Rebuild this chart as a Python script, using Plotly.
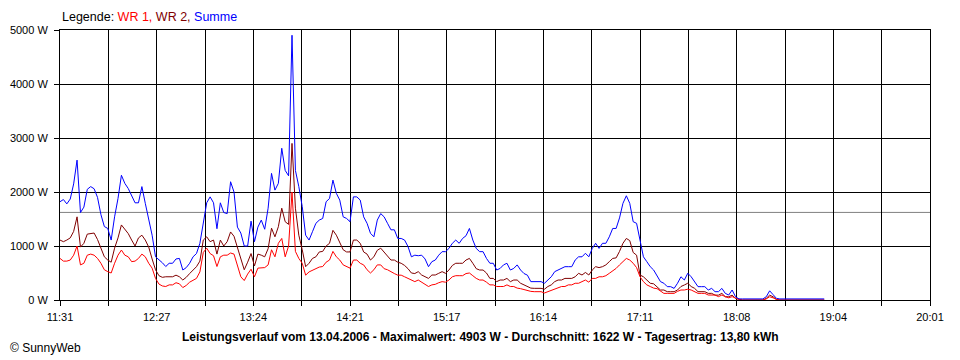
import plotly.graph_objects as go

# ---- data ----
start_label = "11:31"
step_min = 2  # sampling step of the series in minutes, starting at 11:31

summe = [
    1820, 1860, 1780, 1870, 2150, 2590, 1620, 1720, 2050, 2100, 2060, 1900, 1580, 1360, 1325, 1110,
    1540, 1880, 2310, 2160, 2065, 1930, 1800, 1800, 2100, 1790, 1520, 1200, 800, 750, 690, 620,
    680, 680, 760, 770, 555, 600, 680, 800, 860, 1050, 1420, 1800, 1910, 1800, 1320, 1800, 1620,
    1600, 2190, 2000, 1350,
    1240, 1000, 1000, 1460, 1080, 1350, 1480, 1310, 1700, 2345, 2035, 2160, 2810, 2400, 2300, 4903,
    2400, 2100, 1730, 1200, 1110, 1265, 1420, 1480, 1510, 1820, 1880, 2220, 1975, 1850, 1540, 1510,
    1450, 1910, 1910, 1850, 1540, 1420, 1235, 1170, 1480, 1600, 1540, 1420, 1300, 1300, 1140, 1140,
    1110, 990, 800, 830,
    820, 830, 760, 617, 710, 740, 830, 895, 895, 955, 1050, 1110, 1050, 1140, 1190, 1325, 1110, 955,
    895, 895, 770, 680, 680, 555, 585, 650, 680, 555, 585, 650, 555, 490, 460, 340, 340, 340, 340,
    310, 370, 430, 525, 555, 585, 617, 617, 617, 740, 800, 800, 865, 800,
    955, 1050, 955, 1050, 1050, 1170, 1325, 1325, 1520, 1790, 1930, 1790, 1450, 1420, 1080, 800,
    710, 617, 555, 460, 340, 310, 247, 247, 215, 310, 430, 370, 495, 430, 340, 247, 247, 247, 185,
    215, 154, 154, 215, 123, 92, 185, 60,
    20, 20, 20, 20, 20, 20, 20, 20, 60, 170, 100, 30, 20, 20, 20, 20, 20, 20, 20, 20, 20, 20, 20,
    20, 20, 20,
]

wr2 = [
    1110, 1080, 1110, 1150, 1270, 1540, 980, 1050, 1220, 1230, 1240, 1120, 960, 800, 740, 700,
    960, 1150, 1390, 1300, 1230, 1110, 1000, 1150, 1200, 1110, 980, 760, 560, 450, 420, 430,
    430, 430, 460, 430, 370, 420, 490, 555, 617, 720, 1110, 1170, 1080, 1110, 850, 1110, 1000,
    1080, 1260, 1180, 980,
    760, 560, 700, 860, 630, 850, 830, 800, 950, 1330, 1170, 1357, 1700, 1450, 1400, 2900,
    1700, 1200, 930, 617, 680, 770, 800, 890, 900, 1000, 1050, 1290, 1200, 1080, 930, 890,
    890, 1110, 1110, 1050, 890, 850, 740, 800, 920, 960, 890, 810, 740, 740, 700, 680,
    640, 580, 500, 490,
    525, 463, 430, 400, 463, 463, 494, 525, 494, 555, 640, 680, 680, 680, 740, 770, 680, 580,
    555, 555, 500, 400, 400, 340, 370, 370, 400, 340, 370, 370, 310, 280, 250, 220, 216, 216, 216,
    200, 250, 280, 340, 370, 370, 400, 400, 400, 430, 494, 463, 510, 463,
    555, 617, 600, 617, 650, 710, 770, 780, 900, 1050, 1140, 1100, 880, 830, 463, 430,
    370, 310, 300, 250, 185, 185, 154, 154, 154, 185, 250, 278, 310, 250, 216, 154, 154, 154, 123,
    123, 90, 90, 123, 60, 60, 90, 30,
    10, 0, 0, 0, 0, 0, 0, 0, 30, 90, 60, 10, 0, 0, 0, 0, 0, 0, 0, 0, 0, 0, 0,
    0, 0, 0,
]

wr1 = [
    770, 720, 720, 740, 830, 1000, 650, 680, 830, 850, 830, 770, 680, 560, 525, 500,
    680, 830, 925, 830, 800, 710, 720, 770, 850, 800, 680, 590, 400, 295, 260, 250,
    280, 280, 320, 300, 230, 270, 330, 370, 400, 520, 880, 960, 860, 820, 620, 800, 830,
    830, 870, 850, 650,
    430, 360, 480, 570, 430, 590, 600, 600, 650, 930, 800, 1050, 1140, 800, 1000, 2000,
    900, 770, 680, 460, 520, 555, 590, 610, 620, 700, 740, 900, 800, 740, 650, 620,
    590, 740, 740, 680, 650, 560, 500, 560, 650, 650, 580, 560, 520, 490, 460, 460,
    430, 400, 370, 340,
    370, 330, 300, 250, 280, 290, 320, 340, 330, 370, 430, 450, 450, 450, 490, 500, 450, 400,
    370, 370, 330, 280, 280, 250, 250, 250, 280, 250, 250, 220, 210, 190, 180, 160, 154, 154, 154,
    130, 154, 185, 216, 240, 250, 250, 280, 280, 310, 310, 340, 370, 330,
    400, 400, 430, 430, 450, 494, 540, 585, 650, 710, 770, 740, 680, 600, 430, 340,
    280, 250, 220, 210, 160, 123, 123, 123, 123, 160, 185, 185, 200, 185, 154, 123, 123, 123, 92,
    92, 92, 62, 92, 62, 40, 62, 30,
    10, 0, 0, 0, 0, 0, 0, 0, 20, 60, 40, 10, 0, 0, 0, 0, 0, 0, 0, 0, 0, 0, 0,
    0, 0, 0,
]

tick_labels = ["11:31", "12:27", "13:24", "14:21", "15:17", "16:14", "17:11", "18:08", "19:04", "20:01"]
span_min = 510          # 11:31 -> 20:01
average_w = 1622
legend_parts = [("WR 1", "#FF0000"), ("WR 2", "#800000"), ("Summe", "#0000FF")]
title_text = ("Leistungsverlauf vom 13.04.2006 - Maximalwert: 4903 W - "
              "Durchschnitt: 1622 W - Tagesertrag: 13,80 kWh")

# ---- figure ----
minutes = [i * step_min for i in range(len(summe))]
FONT = "Liberation Sans, Arial, sans-serif"

fig = go.Figure()
fig.add_trace(go.Scatter(x=minutes, y=wr2, mode="lines", line=dict(color="#800000", width=1), name="WR 2"))
fig.add_trace(go.Scatter(x=minutes, y=wr1, mode="lines", line=dict(color="#FF0000", width=1), name="WR 1"))
fig.add_trace(go.Scatter(x=minutes, y=summe, mode="lines", line=dict(color="#0000FF", width=1), name="Summe"))

n_div = 2 * (len(tick_labels) - 1)
xt_vals = [i * span_min / n_div for i in range(n_div + 1)]
xt_text = [tick_labels[i // 2] if i % 2 == 0 else "" for i in range(n_div + 1)]

fig.update_xaxes(
    range=[0, span_min], tickvals=xt_vals, ticktext=xt_text, automargin=False,
    showgrid=True, gridcolor="black", gridwidth=1,
    showline=True, linecolor="black", linewidth=1, mirror=True,
    ticks="outside", ticklen=5, tickcolor="black", zeroline=False,
    ticklabelstandoff=2,
    tickfont=dict(family=FONT, size=11, color="black"),
)
fig.update_yaxes(
    range=[0, 5000], tick0=0, dtick=1000, ticksuffix=" W", automargin=False,
    showgrid=True, gridcolor="black", gridwidth=1,
    showline=True, linecolor="black", linewidth=1, mirror=True,
    ticks="outside", ticklen=5, tickcolor="black", zeroline=False,
    ticklabelstandoff=4,
    tickfont=dict(family=FONT, size=11, color="black"),
)

fig.add_shape(type="line", xref="paper", x0=0, x1=1, yref="y", y0=average_w, y1=average_w,
              line=dict(color="#808080", width=1), layer="between")

legend_html = "Legende: " + " ".join(
    f'<span style="color:{c}">{t}{"," if i < len(legend_parts) - 1 else ""}</span>'
    for i, (t, c) in enumerate(legend_parts))

fig.add_annotation(text=legend_html, xref="paper", yref="paper", x=0, y=1 + 13 / 270,
                   xanchor="left", yanchor="middle", showarrow=False,
                   font=dict(family=FONT, size=12.5, color="black"))
fig.add_annotation(text="<b>" + title_text + "</b>", xref="paper", yref="paper",
                   x=(480 - 60) / 870, y=-37 / 270, xanchor="center", yanchor="middle",
                   showarrow=False, font=dict(family=FONT, size=12, color="black"))
fig.add_annotation(text="© SunnyWeb", xref="paper", yref="paper",
                   x=-52 / 870, y=-48 / 270, xanchor="left", yanchor="middle",
                   showarrow=False, font=dict(family=FONT, size=12, color="black"))

# page body has an 8px margin: figure is sized/offset so the plot area sits at 60..930 x 30..300
fig.update_layout(
    width=952, height=352,
    margin=dict(l=52, r=30, t=22, b=60, autoexpand=False),
    plot_bgcolor="white", paper_bgcolor="white",
    showlegend=False, hovermode=False,
)

fig.write_html("out.html")
